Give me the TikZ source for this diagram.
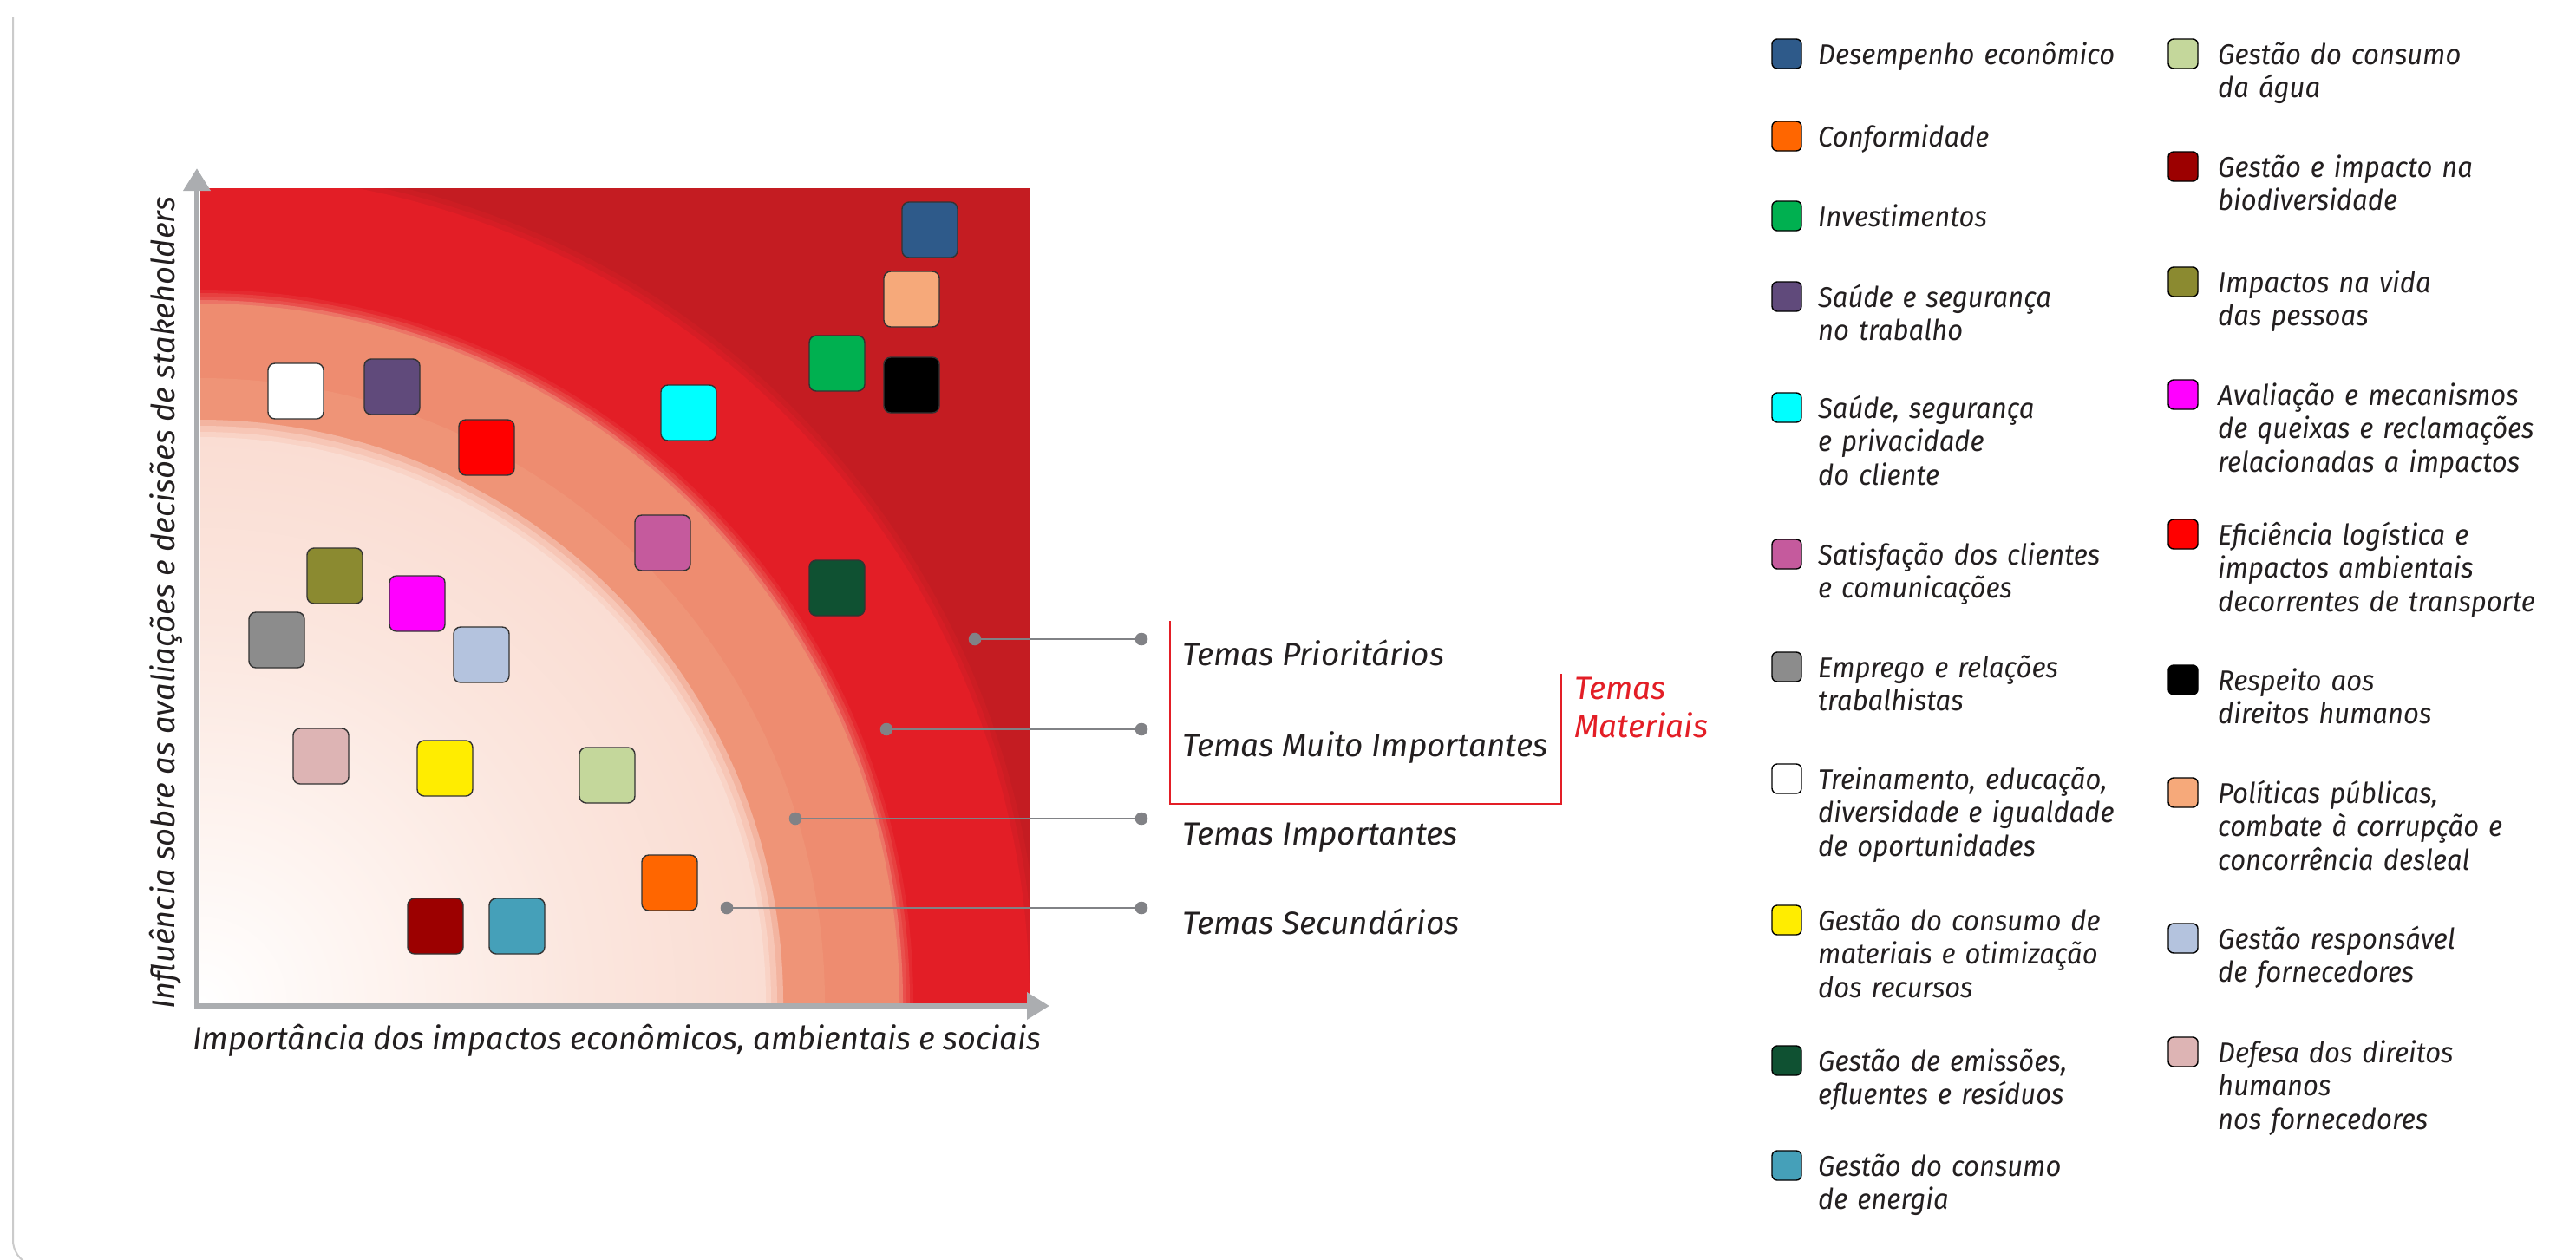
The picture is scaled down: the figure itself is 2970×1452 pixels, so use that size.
\documentclass[tikz,border=0pt]{standalone}
\usepackage{fontspec}
\setmainfont{Fira Sans}
\newfontfamily\legfam{Fira Sans}[FakeStretch=0.94]
\newfontfamily\axfam{Fira Sans}[FakeStretch=0.98]
\usetikzlibrary{arrows.meta}

\definecolor{cdark}{HTML}{C41C22}
\definecolor{cred}{HTML}{E31E26}
\definecolor{rd1}{HTML}{CC1D23}
\definecolor{rd2}{HTML}{D61D25}
\definecolor{sa7}{HTML}{E52A30}
\definecolor{sa6}{HTML}{E7403F}
\definecolor{sa5}{HTML}{E9504D}
\definecolor{sa4}{HTML}{EC7466}
\definecolor{sa3}{HTML}{EE8C70}
\definecolor{sa2}{HTML}{EF9477}
\definecolor{sa1}{HTML}{F3B4A0}
\definecolor{sa0}{HTML}{F7C6B6}
\definecolor{lzr}{HTML}{F9D3C6}
\definecolor{lz1}{HTML}{FEF4F0}
\definecolor{lz2}{HTML}{FBE6DE}
\definecolor{lz3}{HTML}{FADDD3}
\definecolor{axisgray}{HTML}{ABADB0}
\definecolor{leadgray}{HTML}{818286}
\definecolor{framegray}{HTML}{CBCBCB}
\definecolor{txt}{HTML}{231F20}
\definecolor{brred}{HTML}{E31E26}

\definecolor{cDes}{HTML}{2E5A8A}
\definecolor{cCon}{HTML}{FF6600}
\definecolor{cInv}{HTML}{00B050}
\definecolor{cSst}{HTML}{604A7B}
\definecolor{cSsp}{HTML}{00FFFF}
\definecolor{cSat}{HTML}{C55A9D}
\definecolor{cEmp}{HTML}{8C8C8C}
\definecolor{cTre}{HTML}{FFFFFF}
\definecolor{cMat}{HTML}{FFED00}
\definecolor{cEmi}{HTML}{0F5132}
\definecolor{cEne}{HTML}{45A0B9}
\definecolor{cAgu}{HTML}{C4D79B}
\definecolor{cBio}{HTML}{9C0000}
\definecolor{cVid}{HTML}{8B8A30}
\definecolor{cAva}{HTML}{FF00FF}
\definecolor{cEfi}{HTML}{FF0000}
\definecolor{cDir}{HTML}{000000}
\definecolor{cPol}{HTML}{F6A97A}
\definecolor{cFor}{HTML}{B4C3DE}
\definecolor{cDef}{HTML}{DDB4B4}

% TikZ maps the 25bp radius of a radial shading onto the half-size of the path
\pgfdeclareradialshading{lightzone}{\pgfpoint{0bp}{0bp}}{color(0bp)=(white); color(7.6bp)=(lz1); color(17bp)=(lz2); color(25bp)=(lz3); color(50bp)=(lz3)}

\newcommand\legfont{\legfam\fontsize{33}{38.5}\selectfont\itshape}
\newcommand\temafont{\fontsize{37}{44}\selectfont\itshape}
\newcommand\axfont{\axfam\fontsize{37}{44}\selectfont\itshape}

\tikzset{
  sq/.style={draw=black!80, line width=1.4pt, rounded corners=8pt, minimum size=64pt, inner sep=0pt},
  lbox/.style={draw=black, line width=1.4pt, rounded corners=6pt, minimum size=34pt, inner sep=0pt},
  legtext/.style={anchor=base west, inner sep=0pt, align=left, text width=420pt, font=\legfont, text=txt},
  tema/.style={anchor=base west, inner sep=0pt, font=\temafont, text=txt},
  axislabel/.style={anchor=base west, inner sep=0pt, font=\axfont, text=txt},
  leader/.style={draw=leadgray, line width=2.8pt},
  leaddot/.style={circle, fill=leadgray, inner sep=0pt, minimum size=14.6pt},
  axisline/.style={draw=axisgray, line width=6.5pt, line join=miter},
  bracket/.style={draw=brred, line width=2.6pt}
}

\begin{document}
\begin{tikzpicture}[x=1pt,y=-1pt]
\useasboundingbox (0,0) rectangle (2970,1452);

% page frame
\draw[framegray, line width=2pt] (15,20) -- (15,1430) arc[start angle=180, end angle=270, radius=30pt];

% chart background zones (concentric quarter bands)
\begin{scope}
  \clip (231,217) rectangle (1187,1156);
  \coordinate (cc) at (231,1156);
  \fill[cdark] (231,217) rectangle (1187,1156);
  \fill[rd1] (cc) circle[radius=968pt];
  \fill[rd2] (cc) circle[radius=962pt];
  \fill[cred] (cc) circle[radius=956pt];
  \fill[sa7] (cc) circle[radius=822pt];
  \fill[sa6] (cc) circle[radius=818pt];
  \fill[sa5] (cc) circle[radius=814pt];
  \fill[sa4] (cc) circle[radius=810pt];
  \fill[sa3] (cc) circle[radius=806pt];
  \fill[sa2] (cc) circle[radius=720pt];
  \fill[sa1] (cc) circle[radius=672pt];
  \fill[sa0] (cc) circle[radius=665pt];
  \fill[lzr] (cc) circle[radius=658pt];
  \shade[shading=lightzone] (cc) circle[radius=652pt];
\end{scope}

% axes
\draw[axisline, {Triangle[length=26pt,width=30pt]}-{Triangle[length=26pt,width=30pt]}] (227,194) -- (227,1160) -- (1210,1160);

% axis labels
\node[axislabel] (xlab) at (222,1210) {Importância dos impactos econômicos, ambientais e sociais};
\node[axislabel, rotate=90] (ylab) at (201,1164) {Influência sobre as avaliações e decisões de stakeholders};

% squares
\node[sq, fill=cDes] (qDes) at (1072,265) {};
\node[sq, fill=cPol] (qPol) at (1051,345) {};
\node[sq, fill=cInv] (qInv) at (965,419) {};
\node[sq, fill=cDir] (qDir) at (1051,444) {};
\node[sq, fill=cSsp] (qSsp) at (794,476) {};
\node[sq, fill=cTre] (qTre) at (341,451) {};
\node[sq, fill=cSst] (qSst) at (452,446) {};
\node[sq, fill=cEfi] (qEfi) at (561,516) {};
\node[sq, fill=cSat] (qSat) at (764,626) {};
\node[sq, fill=cEmi] (qEmi) at (965,678) {};
\node[sq, fill=cVid] (qVid) at (386,664) {};
\node[sq, fill=cAva] (qAva) at (481,696) {};
\node[sq, fill=cEmp] (qEmp) at (319,738) {};
\node[sq, fill=cFor] (qFor) at (555,755) {};
\node[sq, fill=cDef] (qDef) at (370,872) {};
\node[sq, fill=cMat] (qMat) at (513,886) {};
\node[sq, fill=cAgu] (qAgu) at (700,894) {};
\node[sq, fill=cCon] (qCon) at (772,1018) {};
\node[sq, fill=cBio] (qBio) at (502,1068) {};
\node[sq, fill=cEne] (qEne) at (596,1068) {};

% leader lines
\node[leaddot] (d1) at (1124,737) {};
\node[leaddot] (e1) at (1316,737) {};
\node[leaddot] (d2) at (1022,841) {};
\node[leaddot] (e2) at (1316,841) {};
\node[leaddot] (d3) at (917,944) {};
\node[leaddot] (e3) at (1316,944) {};
\node[leaddot] (d4) at (838,1047) {};
\node[leaddot] (e4) at (1316,1047) {};
\draw[leader] (d1.center) -- (e1.center);
\draw[leader] (d2.center) -- (e2.center);
\draw[leader] (d3.center) -- (e3.center);
\draw[leader] (d4.center) -- (e4.center);

% tema labels
\node[tema] (t1) at (1363,767) {Temas Prioritários};
\node[tema] (t2) at (1363,872) {Temas Muito Importantes};
\node[tema] (t3) at (1363,974) {Temas Importantes};
\node[tema] (t4) at (1363,1077) {Temas Secundários};

% bracket
\coordinate (b1) at (1349,716);
\coordinate (b2) at (1349,927);
\coordinate (b3) at (1800,927);
\coordinate (b4) at (1800,777);
\draw[bracket] (b1) -- (b2) -- (b3) -- (b4);
\node[tema, text=brred, align=left, text width=200pt] (tm) at (1815,806) {Temas\\Materiais};

% legend column 1
\node[lbox, fill=cDes] (l1) at (2060,62) {};
\node[legtext] (lt1) at (2096,74) {Desempenho econômico};
\node[lbox, fill=cCon] (l2) at (2060,157) {};
\node[legtext] (lt2) at (2096,169) {Conformidade};
\node[lbox, fill=cInv] (l3) at (2060,249) {};
\node[legtext] (lt3) at (2096,261) {Investimentos};
\node[lbox, fill=cSst] (l4) at (2060,342) {};
\node[legtext] (lt4) at (2096,354) {Saúde e segurança\\no trabalho};
\node[lbox, fill=cSsp] (l5) at (2060,470) {};
\node[legtext] (lt5) at (2096,482) {Saúde, segurança\\e privacidade\\do cliente};
\node[lbox, fill=cSat] (l6) at (2060,639) {};
\node[legtext] (lt6) at (2096,651) {Satisfação dos clientes\\e comunicações};
\node[lbox, fill=cEmp] (l7) at (2060,769) {};
\node[legtext] (lt7) at (2096,781) {Emprego e relações\\trabalhistas};
\node[lbox, fill=cTre] (l8) at (2060,898) {};
\node[legtext] (lt8) at (2096,910) {Treinamento, educação,\\diversidade e igualdade\\de oportunidades};
\node[lbox, fill=cMat] (l9) at (2060,1061) {};
\node[legtext] (lt9) at (2096,1073) {Gestão do consumo de\\materiais e otimização\\dos recursos};
\node[lbox, fill=cEmi] (l10) at (2060,1223) {};
\node[legtext] (lt10) at (2096,1235) {Gestão de emissões,\\efluentes e resíduos};
\node[lbox, fill=cEne] (l11) at (2060,1344) {};
\node[legtext] (lt11) at (2096,1356) {Gestão do consumo\\de energia};

% legend column 2
\node[lbox, fill=cAgu] (l12) at (2517,62) {};
\node[legtext] (lt12) at (2557,74) {Gestão do consumo\\da água};
\node[lbox, fill=cBio] (l13) at (2517,192) {};
\node[legtext] (lt13) at (2557,204) {Gestão e impacto na\\biodiversidade};
\node[lbox, fill=cVid] (l14) at (2517,325) {};
\node[legtext] (lt14) at (2557,337) {Impactos na vida\\das pessoas};
\node[lbox, fill=cAva] (l15) at (2517,455) {};
\node[legtext] (lt15) at (2557,467) {Avaliação e mecanismos\\de queixas e reclamações\\relacionadas a impactos};
\node[lbox, fill=cEfi] (l16) at (2517,616) {};
\node[legtext] (lt16) at (2557,628) {Eficiência logística e\\impactos ambientais\\decorrentes de transporte};
\node[lbox, fill=cDir] (l17) at (2517,784) {};
\node[legtext] (lt17) at (2557,796) {Respeito aos\\direitos humanos};
\node[lbox, fill=cPol] (l18) at (2517,914) {};
\node[legtext] (lt18) at (2557,926) {Políticas públicas,\\combate à corrupção e\\concorrência desleal};
\node[lbox, fill=cFor] (l19) at (2517,1082) {};
\node[legtext] (lt19) at (2557,1094) {Gestão responsável\\de fornecedores};
\node[lbox, fill=cDef] (l20) at (2517,1213) {};
\node[legtext] (lt20) at (2557,1225) {Defesa dos direitos\\humanos\\nos fornecedores};
\end{tikzpicture}
\end{document}
